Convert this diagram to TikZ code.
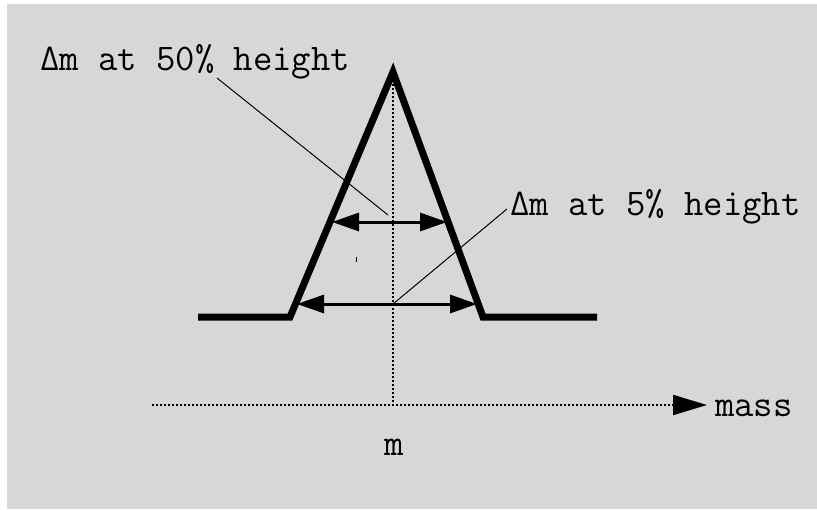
\documentclass[tikz,border=0pt]{standalone}
\usepackage{fontspec}
\usetikzlibrary{arrows.meta}
\definecolor{bgc}{RGB}{217,214,217}
\newcommand{\bigdelta}{{\addfontfeatures{FakeBold=4}Δ}}
\begin{document}
\begin{tikzpicture}[x=1pt,y=-1pt,
  lbl/.style={font=\ttfamily\fontsize{37.6}{42}\selectfont\addfontfeatures{FakeBold=1.4}, inner sep=0pt, text=black},
  peakline/.style={line width=7pt, line join=miter, miter limit=10},
  dimarrow/.style={line width=3pt, {Triangle[length=27pt,width=18pt]}-{Triangle[length=27pt,width=18pt]}},
  leader/.style={line width=1pt},
  dotline/.style={line width=2pt, dash pattern=on 2pt off 2pt}]
\useasboundingbox (0,0) rectangle (817,509);
\fill[white] (0,0) rectangle (817,509);
\fill[bgc] (7,4) rectangle (817,509);
% key points
\coordinate (bl) at (198,317);
\coordinate (fl) at (290,317);
\coordinate (pk) at (393,72);
\coordinate (fr) at (483,317);
\coordinate (br) at (597,317);
\coordinate (pkd) at (393,405);
\coordinate (axs) at (152,405);
\coordinate (axe) at (707,405);
\coordinate (a1l) at (332,222);
\coordinate (a1r) at (447,222);
\coordinate (a2l) at (297,304);
\coordinate (a2r) at (477,304);
\coordinate (l1s) at (217,78);
\coordinate (l1e) at (388,215);
\coordinate (l2s) at (393,304);
\coordinate (l2e) at (507,209);
% labels
\node[lbl, anchor=base west] (t50) at (40,70) {\bigdelta m at 50\% height};
\node[lbl, anchor=base west] (t5) at (510,215) {\bigdelta m at 5\% height};
\node[lbl, anchor=base west] (mass) at (715,416) {mass};
\node[lbl, anchor=base] (mlab) at (394,455) {m};
% axis and centre line
\draw[dotline] (pk) -- (pkd);
\draw[dotline, -{Triangle[length=34pt,width=20pt]}] (axs) -- (axe);
% peak
\draw[peakline] (bl) -- (fl) -- (pk) -- (fr) -- (br);
% width arrows
\draw[dimarrow] (a1l) -- (a1r);
\draw[dimarrow] (a2l) -- (a2r);
% leaders
\draw[leader] (l1s) -- (l1e);
\draw[leader] (l2s) -- (l2e);
\draw[line width=1pt] (356,257) -- (356,262);
\end{tikzpicture}
\end{document}
